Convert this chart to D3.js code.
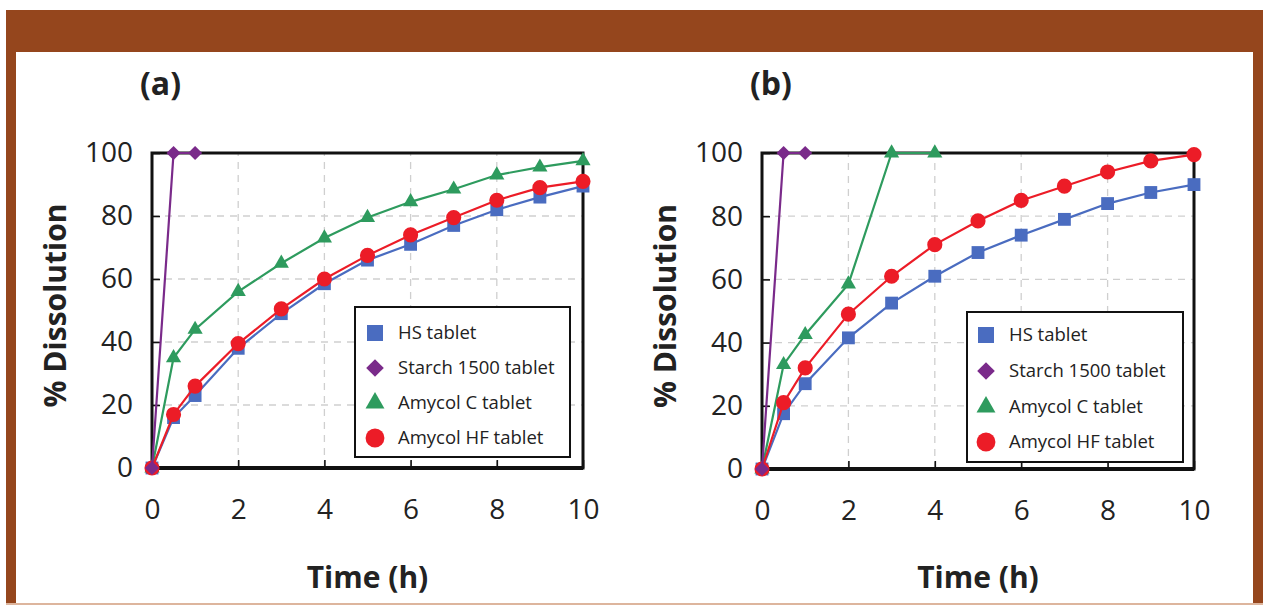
<!DOCTYPE html>
<html>
<head>
<meta charset="utf-8">
<script src="https://cdn.jsdelivr.net/npm/d3@7"></script>
<style>
  html, body { margin: 0; padding: 0; background: #ffffff; }
  svg { display: block; font-family: "Open Sans", "DejaVu Sans", sans-serif; }
</style>
</head>
<body>
<svg id="chart" width="1269" height="605"></svg>
<script>
// ---- data ----
const seriesNames = ["HS tablet", "Starch 1500 tablet", "Amycol C tablet", "Amycol HF tablet"];
const xTicks = [0, 2, 4, 6, 8, 10];
const yTicks = [0, 20, 40, 60, 80, 100];

const timeFull = [0, 0.5, 1, 2, 3, 4, 5, 6, 7, 8, 9, 10];
const timeStarch = [0, 0.5, 1];
const timeAmycolCB = [0, 0.5, 1, 2, 3, 4];

// panel (a)
const hsA        = [0, 16, 23, 38, 49, 58.5, 66, 71, 77, 82, 86, 89.5];
const starchA    = [0, 100, 100];
const amycolCA   = [0, 35, 44, 56, 65, 73, 79.5, 84.5, 88.5, 93, 95.5, 97.5];
const amycolHFA  = [0, 17, 26, 39.5, 50.5, 60, 67.5, 74, 79.5, 85, 89, 91];

// panel (b)
const hsB        = [0, 17.5, 27, 41.5, 52.5, 61, 68.5, 74, 79, 84, 87.5, 90];
const starchB    = [0, 100, 100];
const amycolCB   = [0, 33, 42.5, 58.5, 100, 100];
const amycolHFB  = [0, 21, 32, 49, 61, 71, 78.5, 85, 89.5, 94, 97.5, 99.5];

// ---- styling ----
const colors = { hs: "#4a6cc0", starch: "#7a2a8a", amycolC: "#2e9b5e", amycolHF: "#ec1c27" };
const brown = "#95461d";

const svg = d3.select("#chart");

// brown frame with a header band; thin light edge along the bottom
svg.append("rect").attr("x", 6).attr("y", 10).attr("width", 1257).attr("height", 595).attr("fill", brown);
svg.append("rect").attr("x", 16).attr("y", 52).attr("width", 1237).attr("height", 553).attr("fill", "#ffffff");
svg.append("rect").attr("x", 6).attr("y", 603).attr("width", 1257).attr("height", 2).attr("fill", "#ddb59d");

function diamondPath(size) {
  // square rotated by 45 degrees
  const h = Math.sqrt(size * 2) / 2;
  return `M0,${-h}L${h},0L0,${h}L${-h},0Z`;
}
function markerPath(kind, scale) {
  if (kind === "square") return d3.symbol(d3.symbolSquare, 165 * scale)();
  if (kind === "diamond") return diamondPath(100 * scale);
  if (kind === "triangle") return d3.symbol(d3.symbolTriangle, 100 * scale)();
  return d3.symbol(d3.symbolCircle, 180 * scale)();
}

const panels = [
  {
    label: "(a)", left: 152, right: 583, bottom: 468, top: 153,
    legend: { x: 355, y: 307, w: 215, h: 150, rows: [333, 368, 403, 438], mx: 375, tx: 398 },
    series: [
      { name: seriesNames[0], kind: "square",   color: colors.hs,       t: timeFull,   v: hsA },
      { name: seriesNames[2], kind: "triangle", color: colors.amycolC,  t: timeFull,   v: amycolCA },
      { name: seriesNames[3], kind: "circle",   color: colors.amycolHF, t: timeFull,   v: amycolHFA },
      { name: seriesNames[1], kind: "diamond",  color: colors.starch,   t: timeStarch, v: starchA }
    ]
  },
  {
    label: "(b)", left: 762, right: 1194, bottom: 469, top: 153,
    legend: { x: 967, y: 312, w: 216, h: 150, rows: [335, 371, 407, 442], mx: 986, tx: 1009 },
    series: [
      { name: seriesNames[0], kind: "square",   color: colors.hs,       t: timeFull,     v: hsB },
      { name: seriesNames[2], kind: "triangle", color: colors.amycolC,  t: timeAmycolCB, v: amycolCB },
      { name: seriesNames[3], kind: "circle",   color: colors.amycolHF, t: timeFull,     v: amycolHFB },
      { name: seriesNames[1], kind: "diamond",  color: colors.starch,   t: timeStarch,   v: starchB }
    ]
  }
];

const legendOrder = [
  { name: seriesNames[0], kind: "square",   color: colors.hs },
  { name: seriesNames[1], kind: "diamond",  color: colors.starch },
  { name: seriesNames[2], kind: "triangle", color: colors.amycolC },
  { name: seriesNames[3], kind: "circle",   color: colors.amycolHF }
];

panels.forEach(p => {
  const x = d3.scaleLinear().domain([0, 10]).range([p.left, p.right]);
  const y = d3.scaleLinear().domain([0, 100]).range([p.bottom, p.top]);
  const g = svg.append("g");

  // dashed grid
  g.append("g").selectAll("line").data([2, 4, 6, 8]).join("line")
    .attr("x1", d => x(d)).attr("x2", d => x(d)).attr("y1", y(0)).attr("y2", y(100))
    .attr("stroke", "#cfcfcf").attr("stroke-width", 1.3).attr("stroke-dasharray", "7,6");
  g.append("g").selectAll("line").data([20, 40, 60, 80]).join("line")
    .attr("x1", x(0)).attr("x2", x(10)).attr("y1", d => y(d)).attr("y2", d => y(d))
    .attr("stroke", "#cfcfcf").attr("stroke-width", 1.3).attr("stroke-dasharray", "7,6");

  // axes with inward ticks
  const xAxis = g.append("g").attr("transform", `translate(0,${p.bottom})`)
    .call(d3.axisBottom(x).tickValues(xTicks).tickSize(-8).tickPadding(31).tickFormat(d3.format("d")));
  const yAxis = g.append("g").attr("transform", `translate(${p.left},0)`)
    .call(d3.axisLeft(y).tickValues(yTicks).tickSize(-8).tickPadding(19).tickFormat(d3.format("d")));
  [xAxis, yAxis].forEach(a => {
    a.select(".domain").remove();
    a.selectAll(".tick line").attr("stroke", "#111").attr("stroke-width", 1.6);
    a.selectAll(".tick text").attr("fill", "#222").attr("font-size", 28)
      .attr("font-family", "'Open Sans', sans-serif");
  });

  // plot frame
  g.append("rect").attr("x", p.left).attr("y", p.top)
    .attr("width", p.right - p.left).attr("height", p.bottom - p.top)
    .attr("fill", "none").attr("stroke", "#111").attr("stroke-width", 3);
  g.append("line").attr("x1", p.left).attr("x2", p.right).attr("y1", p.bottom).attr("y2", p.bottom)
    .attr("stroke", "#111").attr("stroke-width", 4);

  // series lines and markers
  const line = d3.line().x(d => x(d[0])).y(d => y(d[1]));
  p.series.forEach(s => {
    const pts = s.t.map((t, i) => [t, s.v[i]]);
    g.append("path").datum(pts).attr("d", line)
      .attr("fill", "none").attr("stroke", s.color).attr("stroke-width", 2.2);
    g.append("g").selectAll("path").data(pts).join("path")
      .attr("transform", d => `translate(${x(d[0])},${y(d[1])})`)
      .attr("d", markerPath(s.kind, 1)).attr("fill", s.color);
  });

  // legend
  const L = p.legend;
  const lg = g.append("g");
  lg.append("rect").attr("x", L.x).attr("y", L.y).attr("width", L.w).attr("height", L.h)
    .attr("fill", "#fff").attr("stroke", "#111").attr("stroke-width", 2);
  legendOrder.forEach((e, i) => {
    lg.append("path").attr("transform", `translate(${L.mx},${L.rows[i]})`)
      .attr("d", markerPath(e.kind, 1.55)).attr("fill", e.color);
    lg.append("text").attr("x", L.tx).attr("y", L.rows[i]).attr("dy", "0.35em")
      .attr("font-size", 18.5).attr("fill", "#222").text(e.name);
  });

  // titles
  g.append("text").attr("x", p.left - 12).attr("y", 95).attr("font-size", 32).attr("font-weight", 700)
    .attr("fill", "#222").text(p.label);
  g.append("text").attr("x", (p.left + p.right) / 2).attr("y", 588).attr("text-anchor", "middle")
    .attr("font-size", 30).attr("font-weight", 700).attr("fill", "#222").text("Time (h)");
  g.append("text").attr("transform", `translate(${p.left - 86},${(p.top + p.bottom) / 2 - 5}) rotate(-90)`)
    .attr("text-anchor", "middle").attr("font-size", 30).attr("font-weight", 700)
    .attr("fill", "#222").text("% Dissolution");
});
</script>
</body>
</html>
